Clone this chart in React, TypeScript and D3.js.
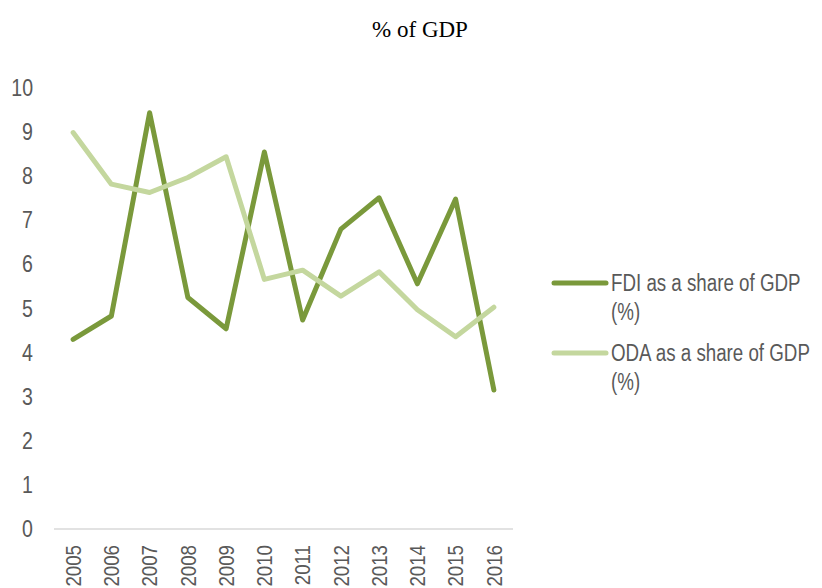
import React from "react";
import * as d3 from "d3";

const years = ["2005","2006","2007","2008","2009","2010","2011","2012","2013","2014","2015","2016"];
const fdi = [4.3, 4.83, 9.44, 5.25, 4.54, 8.55, 4.74, 6.8, 7.51, 5.56, 7.48, 3.15];
const oda = [8.99, 7.82, 7.63, 7.97, 8.44, 5.66, 5.87, 5.28, 5.83, 4.97, 4.36, 5.03];
const yTicks = [0,1,2,3,4,5,6,7,8,9,10];
const seriesNames = ["FDI as a share of GDP", "ODA as a share of GDP"];
const title = "% of GDP";

export default function App() {
  const W = 822, H = 588;
  const x = d3.scaleBand<string>().domain(years).range([54, 513]);
  const y = d3.scaleLinear().domain([0, 10]).range([529, 88]);
  const line = d3.line<number>()
    .x((_, i) => (x(years[i]) as number) + x.bandwidth() / 2)
    .y((d) => y(d));
  const colors = ["#7A993B", "#C4D79E"];
  const font = "'Liberation Sans', Arial, sans-serif";
  const sx = 0.85;
  const lsx = 0.815;
  const series = [fdi, oda];
  return (
    <svg width={W} height={H} style={{ position: "absolute", left: 0, top: 0 }}>
      <rect width={W} height={H} fill="#fff" />
      <text x={420} y={37} textAnchor="middle" fontFamily="'Liberation Serif', 'Times New Roman', serif" fontSize={23} fill="#000">{title}</text>
      <line x1={54} x2={513} y1={529} y2={529} stroke="#d9d9d9" strokeWidth={1.5} />
      {yTicks.map((t) => (
        <text key={t} transform={`translate(33,${y(t)}) scale(${sx},1)`} dy="0.35em" textAnchor="end" fontFamily={font} fontSize={23} fill="#595959">{t}</text>
      ))}
      {years.map((yr) => (
        <text key={yr} transform={`translate(${(x(yr) as number) + x.bandwidth() / 2},545) rotate(-90) scale(${sx},1)`} dy="0.35em" textAnchor="end" fontFamily={font} fontSize={22} fill="#595959">{yr}</text>
      ))}
      {series.map((s, i) => (
        <path key={i} d={line(s) as string} fill="none" stroke={colors[i]} strokeWidth={5} strokeLinejoin="round" strokeLinecap="round" />
      ))}
      {seriesNames.map((n, i) => {
        const ly = 283 + i * 70;
        return (
          <g key={n}>
            <line x1={554} x2={606} y1={ly} y2={ly} stroke={colors[i]} strokeWidth={5} strokeLinecap="round" />
            <text transform={`translate(611,${ly}) scale(${lsx},1)`} dy="0.35em" fontFamily={font} fontSize={23} fill="#595959">{n}</text>
            <text transform={`translate(611,${ly + 29}) scale(${lsx},1)`} dy="0.35em" fontFamily={font} fontSize={23} fill="#595959">(%)</text>
          </g>
        );
      })}
    </svg>
  );
}
